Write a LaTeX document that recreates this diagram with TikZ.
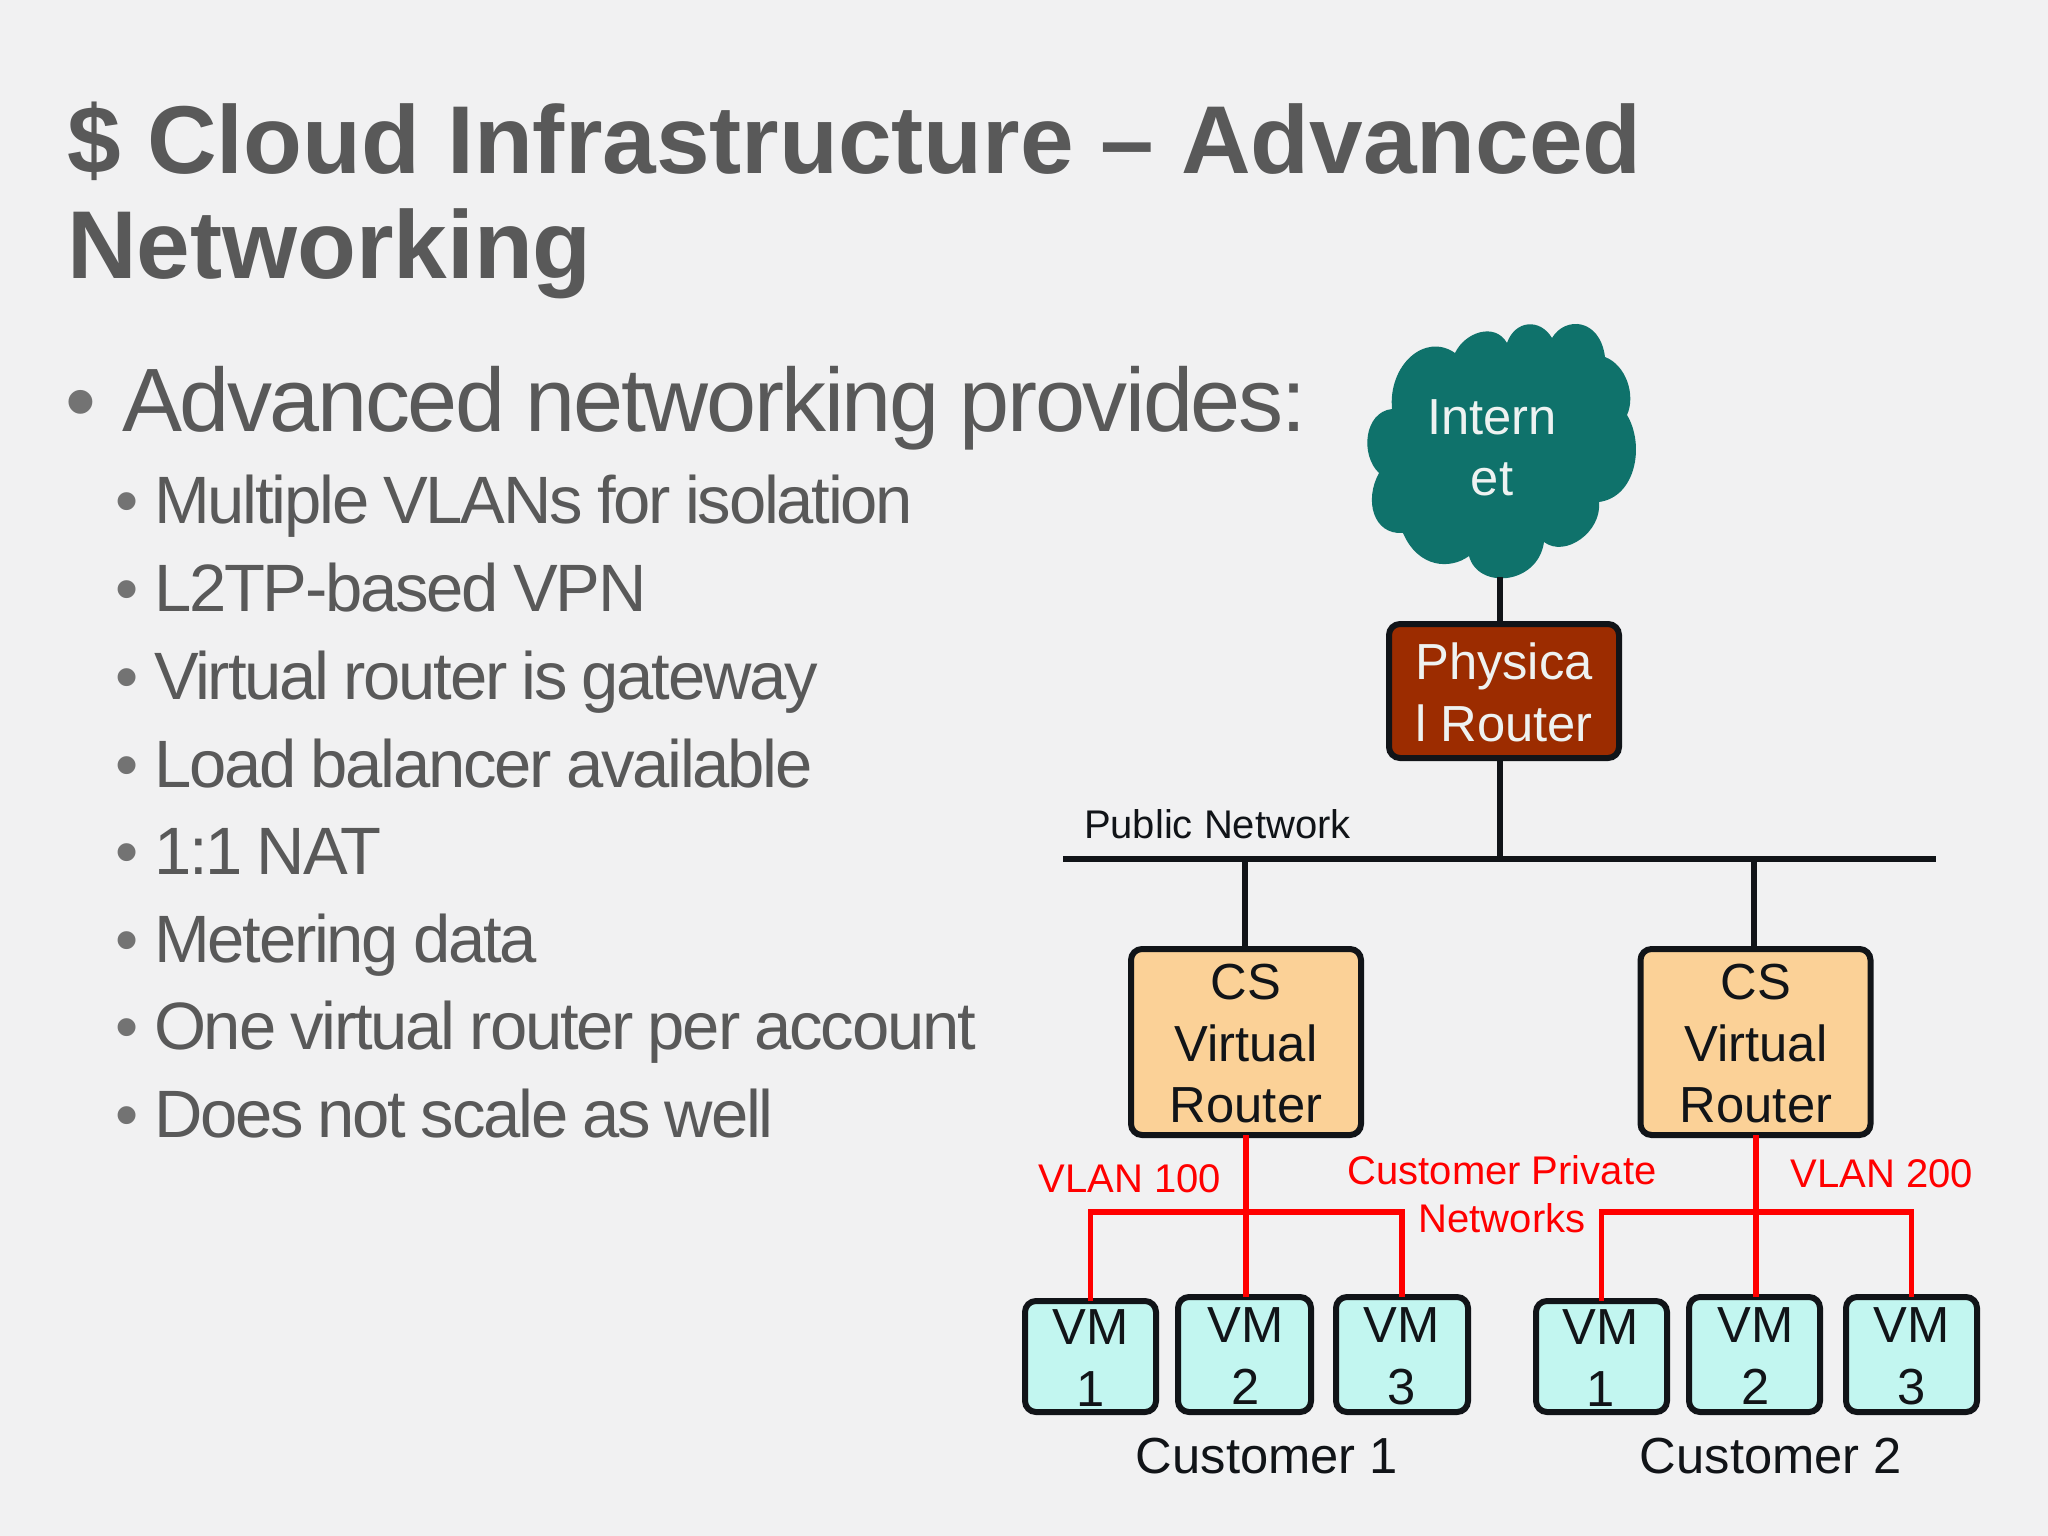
\documentclass[tikz,border=0pt]{standalone}
\usepackage{fontspec}
\setmainfont{Liberation Sans}
\newfontfamily\headf{Liberation Sans}[LetterSpace=-2.65,WordSpace=0.9]
\newfontfamily\itemf{Liberation Sans}[LetterSpace=-3.3,WordSpace=0.86]
\definecolor{bgc}{HTML}{F1F1F2}
\definecolor{slide}{HTML}{595959}
\definecolor{bul}{HTML}{737373}
\definecolor{teal}{HTML}{0F726B}
\definecolor{rust}{HTML}{9C2C00}
\definecolor{peach}{HTML}{FBD197}
\definecolor{aqua}{HTML}{C2F6F0}
\definecolor{ink}{HTML}{111418}
\definecolor{lighttxt}{HTML}{EEF2F1}
\newcommand{\fs}[1]{\fontsize{#1pt}{#1pt}\selectfont}
\tikzset{
  x=1pt,y=-1pt,
  txt/.style={anchor=base,inner sep=0pt,outer sep=0pt},
  title/.style={txt,anchor=base west,text=slide,font=\fs{96.4}\bfseries},
  head/.style={txt,anchor=base west,text=slide,font=\headf\fs{90}},
  item/.style={txt,anchor=base west,text=slide,font=\itemf\fs{67}},
  dot/.style={txt,text=bul},
  box/.style={draw=ink,line width=6pt,rounded corners=11pt,inner sep=0pt,outer sep=0pt},
  big/.style={txt,font=\fs{50.7}},
  small/.style={txt,font=\fs{40}},
  redl/.style={txt,font=\fs{40},text=red},
  net/.style={draw=ink,line width=5.5pt},
  vlan/.style={draw=red,line width=5.5pt},
}
\begin{document}
\begin{tikzpicture}
\useasboundingbox (0,0) rectangle (2048,1536);
\fill[bgc] (0,0) rectangle (2048,1536);
% title
\node[title] (t1) at (67,174) {\$ Cloud Infrastructure – Advanced};
\node[title] (t2) at (67,278) {Networking};
% bullets
\node[dot,font=\fs{88}] (b0) at (81,431) {•};
\node[head] (h0) at (122,431) {Advanced networking provides:};
\foreach \nm/\yy/\tx in {i1/523/Multiple VLANs for isolation,i2/611/L2TP-based VPN,i3/699/Virtual router is gateway,i4/787/Load balancer available,i5/874/1:1 NAT,i6/962/Metering data,i7/1049/One virtual router per account,i8/1137/Does not scale as well}{
  \node[dot,font=\fs{66}] (d\nm) at (127,\yy) {•};
  \node[item] (\nm) at (154,\yy) {\tx};
}
% connector ends
\coordinate (cloudb) at (1500,577);
\coordinate (netl) at (1063,859);
\coordinate (netr) at (1936,859);
\coordinate (netp) at (1500,859);
\coordinate (netc1) at (1245,859);
\coordinate (netc2) at (1754,859);
\coordinate (bus1) at (1246,1212);
\coordinate (bus2) at (1756,1212);
% boxes
\node[box,fill=rust,minimum width=230pt,minimum height=134pt] (phys) at (1504,691) {};
\node[box,fill=peach,minimum width=230pt,minimum height=186pt] (cs1) at (1246,1042) {};
\node[box,fill=peach,minimum width=230pt,minimum height=186pt] (cs2) at (1755.5,1042) {};
\foreach \nm/\cx/\cy/\w/\h in {a1/1090.5/1356.5/131/111,a2/1244.5/1354.5/133/115,a3/1402/1354.5/132/115,b1/1601.5/1356.5/131/111,b2/1754.5/1354.5/131/115,b3/1911.5/1354.5/131/115}{
  \node[box,fill=aqua,minimum width=\w pt,minimum height=\h pt] (\nm) at (\cx,\cy) {};
}
% cloud
\fill[teal] (1392,409)
  .. controls (1388,365) and (1425,332) .. (1455,353)
  .. controls (1465,332) and (1495,322) .. (1507,343)
  .. controls (1515,320) and (1540,318) .. (1552,338)
  .. controls (1565,316) and (1600,318) .. (1605,357)
  .. controls (1626,365) and (1636,395) .. (1627,415)
  .. controls (1645,445) and (1636,497) .. (1599,502)
  .. controls (1602,532) and (1565,558) .. (1544,542)
  .. controls (1538,585) and (1478,590) .. (1469,556)
  .. controls (1450,570) and (1418,568) .. (1403,533)
  .. controls (1373,535) and (1364,500) .. (1379,473)
  .. controls (1360,455) and (1364,412) .. (1392,409) -- cycle;
% connectors
\draw[net] (cloudb) -- (phys.north -| cloudb);
\draw[net] (phys.south -| cloudb) -- (netp);
\draw[net] (netl) -- (netr);
\draw[net] (netc1) -- (cs1.north -| netc1);
\draw[net] (netc2) -- (cs2.north -| netc2);
\draw[vlan] (cs1.south -| bus1) -- (a2.north -| bus1);
\draw[vlan] (a1.north) -- (a1.north |- bus1) -- (a3.north |- bus1) -- (a3.north);
\draw[vlan] (cs2.south -| bus2) -- (b2.north -| bus2);
\draw[vlan] (b1.north) -- (b1.north |- bus2) -- (b3.north |- bus2) -- (b3.north);
% labels
\node[big,text=lighttxt] (int1) at (1492,434) {Intern};
\node[big,text=lighttxt] (int2) at (1492,495) {et};
\node[big,text=lighttxt] (ph1) at (1504,679) {Physica};
\node[big,text=lighttxt] (ph2) at (1504,741) {l Router};
\node[small,anchor=base west,text=ink] (pub) at (1084,838) {Public Network};
\foreach \nm/\cx in {c/1246,e/1756}{
  \node[big,text=ink] (\nm1) at (\cx,999) {CS};
  \node[big,text=ink] (\nm2) at (\cx,1061) {Virtual};
  \node[big,text=ink] (\nm3) at (\cx,1122) {Router};
}
\foreach \nm/\cx/\ya/\yb/\dg in {p1/1091/1344/1406/1,p2/1246/1342/1404/2,p3/1402/1342/1404/3,q1/1601/1344/1406/1,q2/1756/1342/1404/2,q3/1912/1342/1404/3}{
  \node[big,text=ink] (\nm v) at (\cx,\ya) {VM};
  \node[big,text=ink] (\nm d) at (\cx,\yb) {\dg};
}
\node[redl] (v100) at (1130,1192) {VLAN 100};
\node[redl] (v200) at (1882,1187) {VLAN 200};
\node[redl] (cp1) at (1502,1184) {Customer Private};
\node[redl] (cp2) at (1502,1232) {Networks};
\node[big,text=ink] (c1) at (1267,1473) {Customer 1};
\node[big,text=ink] (c2) at (1771,1473) {Customer 2};
\end{tikzpicture}
\end{document}
